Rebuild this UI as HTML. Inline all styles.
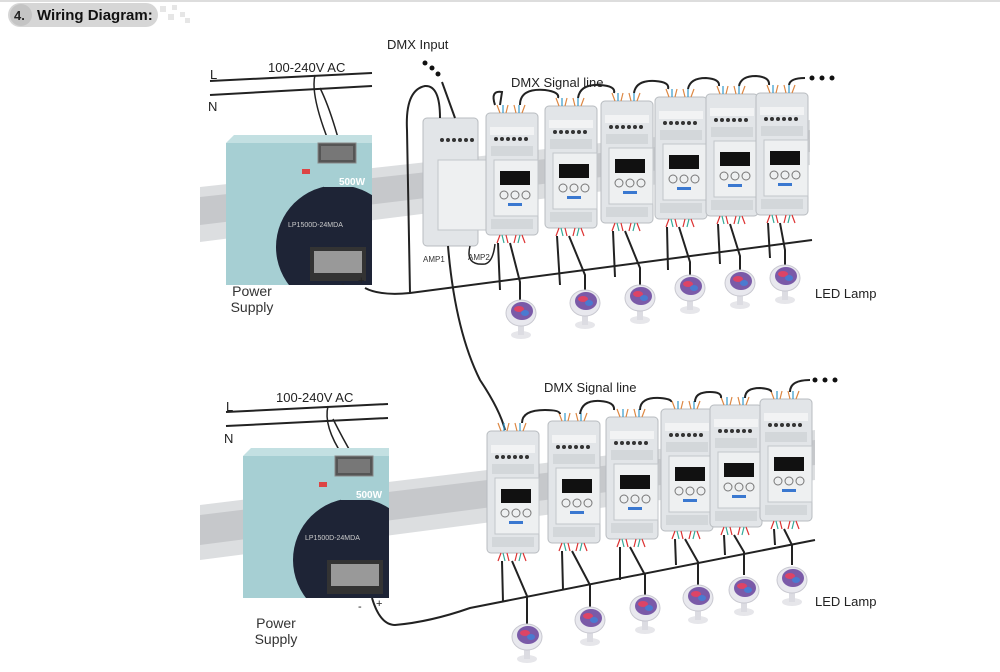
<!DOCTYPE html>
<html><head><meta charset="utf-8"><style>
html,body{margin:0;padding:0;background:#fff;}
svg{display:block;font-family:"Liberation Sans",sans-serif;}
</style></head><body>
<svg width="1000" height="672" viewBox="0 0 1000 672" xmlns="http://www.w3.org/2000/svg">
<defs>
<clipPath id="psclip"><rect x="0" y="8" width="146" height="142"/></clipPath>
<g id="mod">
  <rect x="0" y="0" width="52" height="122" rx="4" fill="#e2e5e8" stroke="#b8bcc0"/>
  <rect x="4" y="14" width="44" height="8" fill="#f2f3f4"/>
  <g fill="#333"><circle cx="10" cy="26" r="2"/><circle cx="16" cy="26" r="2"/><circle cx="22" cy="26" r="2"/><circle cx="28" cy="26" r="2"/><circle cx="34" cy="26" r="2"/><circle cx="40" cy="26" r="2"/></g>
  <rect x="5" y="33" width="42" height="10" fill="#d3d7da"/>
  <rect x="8" y="47" width="44" height="56" fill="#eef0f1" stroke="#c2c6ca"/>
  <rect x="14" y="58" width="30" height="14" fill="#111"/>
  <g fill="none" stroke="#777"><circle cx="18" cy="82" r="4"/><circle cx="29" cy="82" r="4"/><circle cx="40" cy="82" r="4"/></g>
  <rect x="22" y="90" width="14" height="3" fill="#3a78d0"/>
  <rect x="5" y="106" width="42" height="10" fill="#d3d7da"/>
  <path d="M14 122 l-3 8 M20 122 l2 8 M30 122 l-2 8 M36 122 l3 8" stroke="#d33" stroke-width="1.2"/>
  <path d="M16 122 l2 8 M34 122 l-2 8" stroke="#3a9" stroke-width="1.2"/>
  <path d="M14 0 l-3 -8 M20 0 l2 -8 M30 0 l-2 -8 M36 0 l3 -8" stroke="#d84" stroke-width="1.2"/>
  <path d="M17 0 l0 -8 M33 0 l0 -8" stroke="#39c" stroke-width="1.2"/>
</g>
<g id="lamp">
  <ellipse cx="0" cy="22" rx="10" ry="4" fill="#e6e6ea"/>
  <rect x="-3" y="10" width="6" height="12" fill="#dcdce2"/>
  <ellipse cx="0" cy="0" rx="15" ry="13" fill="#e8e8ee" stroke="#c8c8d0"/>
  <ellipse cx="1" cy="-2" rx="11" ry="9" fill="#7a5aa8"/>
  <ellipse cx="-2" cy="-4" rx="5" ry="3" fill="#d46"/>
  <ellipse cx="4" cy="0" rx="4" ry="3" fill="#4a7ad0"/>
</g>
<g id="ps">
  <polygon points="0,8 8,0 146,0 146,8" fill="#c3e0e2"/>
  <rect x="0" y="8" width="146" height="142" fill="#a6cfd3"/>
  <g clip-path="url(#psclip)"><circle cx="112" cy="112" r="62" fill="#1e2436"/></g>
  <rect x="98" y="30" width="48" height="22" fill="#a6cfd3"/>
  <text x="126" y="50" font-size="10" fill="#fff" font-weight="bold" text-anchor="middle">500W</text>
  <text x="62" y="92" font-size="7" fill="#ccc">LP1500D-24MDA</text>
  <rect x="92" y="8" width="38" height="20" fill="#555" stroke="#888"/>
  <rect x="95" y="11" width="32" height="14" fill="#777"/>
  <rect x="84" y="112" width="56" height="34" fill="#333"/>
  <rect x="88" y="116" width="48" height="22" fill="#999"/>
  <rect x="76" y="34" width="8" height="5" fill="#d44"/>
</g>
</defs>

<!-- header -->
<rect x="0" y="0" width="1000" height="2" fill="#ddd"/>
<rect x="8" y="3" width="150" height="24" rx="12" fill="#d6d6d6"/>
<circle cx="21" cy="15" r="11" fill="#c4c4c4"/>
<text x="14" y="20" font-size="13" font-weight="bold" fill="#222">4.</text>
<text x="37" y="20" font-size="15" font-weight="bold" fill="#111">Wiring Diagram:</text>
<g fill="#e6e6e6"><rect x="160" y="6" width="6" height="6"/><rect x="172" y="5" width="5" height="5"/><rect x="168" y="14" width="6" height="6"/><rect x="180" y="12" width="5" height="5"/><rect x="185" y="18" width="5" height="5"/></g>

<!-- ===== TOP ===== -->
<polygon points="200,187 810,120 810,165 200,242" fill="#dcdee0"/>
<polygon points="200,197 810,130 810,152 200,225" fill="#c6c8cb"/>
<text x="210" y="79" font-size="13" fill="#222">L</text>
<text x="208" y="111" font-size="13" fill="#222">N</text>
<line x1="210" y1="81" x2="372" y2="73" stroke="#222" stroke-width="2"/>
<line x1="210" y1="95" x2="372" y2="86" stroke="#222" stroke-width="2"/>
<text x="268" y="72" font-size="13" fill="#222">100-240V AC</text>
<path d="M315 75 q-5 20 15 70 M320 88 q10 20 20 57" stroke="#222" fill="none" stroke-width="1.5"/>
<use href="#ps" x="226" y="135"/>
<text x="252" y="296" font-size="14" fill="#333" text-anchor="middle">Power</text>
<text x="252" y="312" font-size="14" fill="#333" text-anchor="middle">Supply</text>
<text x="341" y="287" font-size="11" fill="#222">-</text><text x="358" y="284" font-size="11" fill="#222">+</text>
<path d="M365 288 Q380 296 410 293 L812 240" stroke="#222" fill="none" stroke-width="2"/>
<!-- splitter -->
<rect x="423" y="118" width="55" height="128" rx="4" fill="#e2e5e8" stroke="#b8bcc0"/>
<rect x="438" y="160" width="50" height="70" fill="#eef0f1" stroke="#c2c6ca"/>
<g fill="#333"><circle cx="442" cy="140" r="2"/><circle cx="448" cy="140" r="2"/><circle cx="454" cy="140" r="2"/><circle cx="460" cy="140" r="2"/><circle cx="466" cy="140" r="2"/><circle cx="472" cy="140" r="2"/></g>
<text x="423" y="262" font-size="8" fill="#333">AMP1</text>
<text x="468" y="260" font-size="8" fill="#333">AMP2</text>
<path d="M470 246 q-5 20 15 18 q8-2 10-20" stroke="#222" fill="none" stroke-width="1.5"/>
<path d="M440 118 Q440 85 425 86 Q405 90 407 130 L410 293" stroke="#222" fill="none" stroke-width="2"/>
<path d="M455 118 L442 82" stroke="#222" fill="none" stroke-width="2"/>
<g fill="#111"><circle cx="425" cy="63" r="2.5"/><circle cx="432" cy="68" r="2.5"/><circle cx="438" cy="74" r="2.5"/></g>
<text x="387" y="49" font-size="13" fill="#222">DMX Input</text>
<text x="511" y="87" font-size="13" fill="#222">DMX Signal line</text>
<path d="M448 246 Q455 330 480 380 Q500 410 505 430" stroke="#222" fill="none" stroke-width="2"/>

<use href="#mod" x="486" y="113"/>
<use href="#mod" x="545" y="106"/>
<use href="#mod" x="601" y="101"/>
<use href="#mod" x="655" y="97"/>
<use href="#mod" x="706" y="94"/>
<use href="#mod" x="756" y="93"/>
<g stroke="#222" fill="none" stroke-width="2">
<path d="M495 105 Q490 90 502 92 L500 105"/>
<path d="M520 105 Q520 88 545 90 Q560 92 558 98"/>
<path d="M578 98 Q580 84 600 85 Q616 86 614 93"/>
<path d="M634 93 Q636 80 655 81 Q670 82 668 89"/>
<path d="M688 89 Q690 78 706 78 Q720 79 719 86"/>
<path d="M739 86 Q741 76 756 76 Q770 77 769 85"/>
<path d="M789 85 Q790 78 805 78"/>
<path d="M498 243 L500 290 M510 243 L520 282 L520 305"/>
<path d="M557 236 L560 285 M569 236 L585 275 L585 295"/>
<path d="M613 231 L615 277 M625 231 L640 268 L640 290"/>
<path d="M667 227 L668 270 M679 227 L690 262 L690 280"/>
<path d="M718 224 L720 264 M730 224 L740 256 L740 275"/>
<path d="M768 223 L770 258 M780 223 L785 250 L785 270"/>
</g>
<g fill="#111"><circle cx="812" cy="78" r="2.5"/><circle cx="822" cy="78" r="2.5"/><circle cx="832" cy="78" r="2.5"/></g>
<use href="#lamp" x="521" y="313"/>
<use href="#lamp" x="585" y="303"/>
<use href="#lamp" x="640" y="298"/>
<use href="#lamp" x="690" y="288"/>
<use href="#lamp" x="740" y="283"/>
<use href="#lamp" x="785" y="278"/>
<text x="815" y="298" font-size="13" fill="#222">LED Lamp</text>

<!-- ===== BOTTOM ===== -->
<polygon points="200,505 815,430 815,480 200,560" fill="#dcdee0"/>
<polygon points="200,515 815,440 815,465 200,545" fill="#c6c8cb"/>
<text x="226" y="411" font-size="13" fill="#222">L</text>
<text x="224" y="443" font-size="13" fill="#222">N</text>
<line x1="226" y1="412" x2="388" y2="404" stroke="#222" stroke-width="2"/>
<line x1="226" y1="426" x2="388" y2="418" stroke="#222" stroke-width="2"/>
<text x="276" y="402" font-size="13" fill="#222">100-240V AC</text>
<path d="M328 406 q-5 20 15 50 M333 419 q10 20 20 37" stroke="#222" fill="none" stroke-width="1.5"/>
<use href="#ps" x="243" y="448"/>
<text x="276" y="628" font-size="14" fill="#333" text-anchor="middle">Power</text>
<text x="276" y="644" font-size="14" fill="#333" text-anchor="middle">Supply</text>
<text x="358" y="610" font-size="11" fill="#222">-</text><text x="376" y="607" font-size="11" fill="#222">+</text>
<path d="M372 598 Q380 625 395 625 Q430 622 470 608 L815 540" stroke="#222" fill="none" stroke-width="2"/>
<text x="544" y="392" font-size="13" fill="#222">DMX Signal line</text>

<use href="#mod" x="487" y="431"/>
<use href="#mod" x="548" y="421"/>
<use href="#mod" x="606" y="417"/>
<use href="#mod" x="661" y="409"/>
<use href="#mod" x="710" y="405"/>
<use href="#mod" x="760" y="399"/>
<g stroke="#222" fill="none" stroke-width="2">
<path d="M522 423 Q522 410 545 410 Q560 410 560 414"/>
<path d="M580 414 Q582 400 600 401 Q615 402 614 410"/>
<path d="M640 410 Q640 397 660 398 Q672 399 671 402"/>
<path d="M695 402 Q695 392 710 392 Q722 392 721 398"/>
<path d="M745 398 Q745 388 760 388 Q772 389 771 392"/>
<path d="M790 392 Q790 380 810 380"/>
<path d="M502 561 L503 602 M512 561 L527 596 L527 625"/>
<path d="M562 551 L563 590 M572 551 L590 585 L590 607"/>
<path d="M620 547 L620 580 M630 547 L645 575 L645 595"/>
<path d="M675 539 L676 565 M685 539 L698 562 L698 585"/>
<path d="M724 535 L725 555 M734 535 L744 552 L744 575"/>
<path d="M774 529 L775 545 M784 529 L792 545 L792 565"/>
</g>
<g fill="#111"><circle cx="815" cy="380" r="2.5"/><circle cx="825" cy="380" r="2.5"/><circle cx="835" cy="380" r="2.5"/></g>
<use href="#lamp" x="527" y="637"/>
<use href="#lamp" x="590" y="620"/>
<use href="#lamp" x="645" y="608"/>
<use href="#lamp" x="698" y="598"/>
<use href="#lamp" x="744" y="590"/>
<use href="#lamp" x="792" y="580"/>
<text x="815" y="606" font-size="13" fill="#222">LED Lamp</text>
</svg>
</body></html>
